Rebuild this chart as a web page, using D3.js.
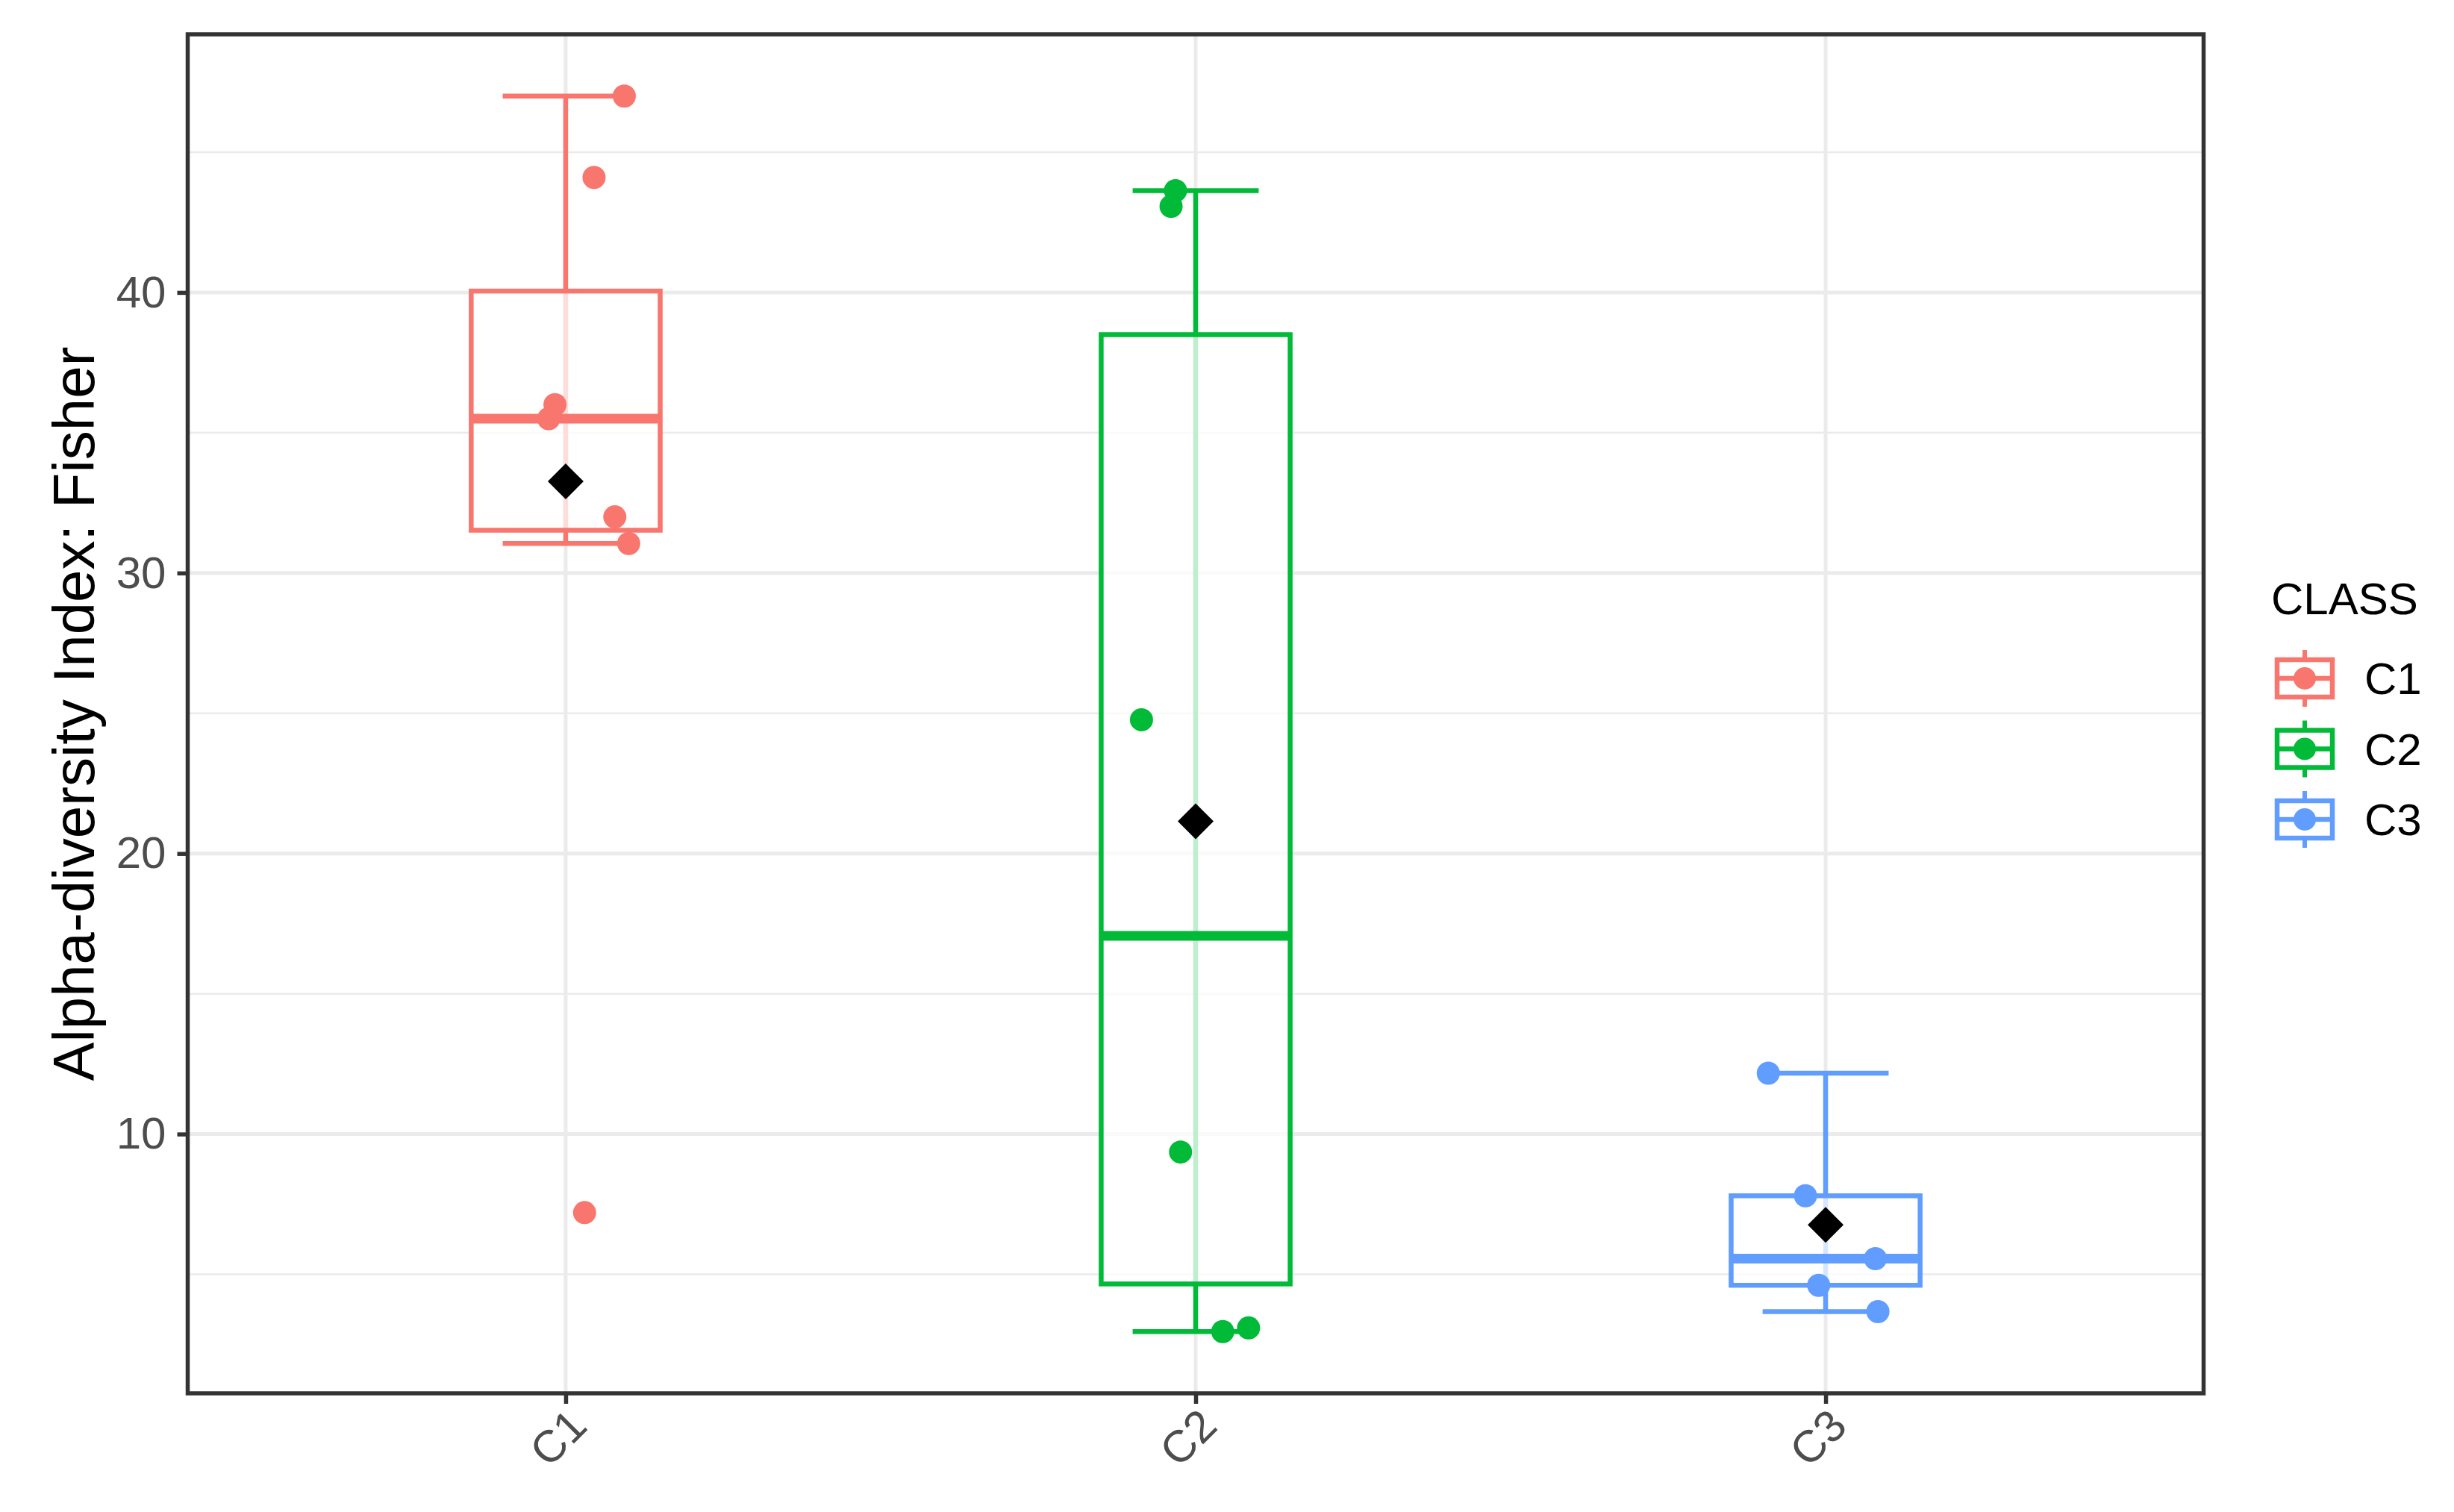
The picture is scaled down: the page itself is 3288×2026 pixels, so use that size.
<!DOCTYPE html>
<html>
<head>
<meta charset="utf-8">
<script src="https://cdn.jsdelivr.net/npm/d3@7"></script>
<style>
  html, body { margin: 0; padding: 0; background: #ffffff; }
  svg { display: block; font-family: "Liberation Sans", Arial, sans-serif; }
</style>
</head>
<body>
<svg id="chart" width="3288" height="2026"></svg>
<script>
// ---------------- data ----------------
const categories = ["C1", "C2", "C3"];
const colors = ["#F8766D", "#00BA38", "#619CFF"];
const valuesC1 = [47.0, 44.1, 36.0, 35.5, 32.0, 31.05, 7.2];
const valuesC2 = [43.63, 43.07, 24.77, 9.36, 2.96, 3.09];
const valuesC3 = [12.17, 7.80, 5.56, 4.61, 3.67];
// horizontal jitter of each point, in category-step units
const jitterC1 = [0.093, 0.045, -0.017, -0.027, 0.078, 0.100, 0.030];
const jitterC2 = [-0.032, -0.039, -0.086, -0.024, 0.043, 0.084];
const jitterC3 = [-0.091, -0.032, 0.079, -0.011, 0.083];
const yTicks = [10, 20, 30, 40];
const yMinorTicks = [5, 15, 25, 35, 45];
const yTitle = "Alpha-diversity Index: Fisher";
const legendTitle = "CLASS";

const groups = [
  { name: categories[0], values: valuesC1, jitter: jitterC1, color: colors[0] },
  { name: categories[1], values: valuesC2, jitter: jitterC2, color: colors[1] },
  { name: categories[2], values: valuesC3, jitter: jitterC3, color: colors[2] }
];

// --------------- layout ---------------
const panel = { left: 251.5, right: 2952.5, top: 46, bottom: 1867 };
const svg = d3.select("#chart");

// stats (type-7 quantiles like R)
groups.forEach(g => {
  const s = g.values.slice().sort(d3.ascending);
  const q1 = d3.quantile(s, 0.25), med = d3.quantile(s, 0.5), q3 = d3.quantile(s, 0.75);
  const iqr = q3 - q1;
  const lo = d3.min(s.filter(v => v >= q1 - 1.5 * iqr));
  const hi = d3.max(s.filter(v => v <= q3 + 1.5 * iqr));
  g.stats = { q1, med, q3, lo, hi, mean: d3.mean(s) };
});

const allVals = groups.flatMap(g => g.values);
const ext = d3.extent(allVals);
const pad = (ext[1] - ext[0]) * 0.05;

const y = d3.scaleLinear().domain([ext[0] - pad, ext[1] + pad]).range([panel.bottom, panel.top]);
const x = d3.scalePoint().domain(categories).range([panel.left, panel.right]).padding(0.6);
const step = x.step();

// --------------- grid ---------------
const grid = svg.append("g");
grid.selectAll("line.minor").data(yMinorTicks).join("line")
  .attr("x1", panel.left).attr("x2", panel.right)
  .attr("y1", d => y(d)).attr("y2", d => y(d))
  .attr("stroke", "#EBEBEB").attr("stroke-width", 2.5);
grid.selectAll("line.major").data(yTicks).join("line")
  .attr("x1", panel.left).attr("x2", panel.right)
  .attr("y1", d => y(d)).attr("y2", d => y(d))
  .attr("stroke", "#EBEBEB").attr("stroke-width", 5);
grid.selectAll("line.vx").data(categories).join("line")
  .attr("x1", d => x(d)).attr("x2", d => x(d))
  .attr("y1", panel.top).attr("y2", panel.bottom)
  .attr("stroke", "#EBEBEB").attr("stroke-width", 5);

// --------------- boxes ---------------
const lw = 6.5;
const boxHalf = 0.15 * step;
const capHalf = 0.1 * step;

groups.forEach(g => {
  const cx = x(g.name);
  const st = g.stats;
  const G = svg.append("g");
  // errorbar: vertical line + caps
  G.append("line").attr("x1", cx).attr("x2", cx).attr("y1", y(st.lo)).attr("y2", y(st.hi))
    .attr("stroke", g.color).attr("stroke-width", lw);
  [st.lo, st.hi].forEach(v => {
    G.append("line").attr("x1", cx - capHalf).attr("x2", cx + capHalf)
      .attr("y1", y(v)).attr("y2", y(v))
      .attr("stroke", g.color).attr("stroke-width", lw);
  });
  // box
  G.append("rect").attr("x", cx - boxHalf).attr("width", 2 * boxHalf)
    .attr("y", y(st.q3)).attr("height", y(st.q1) - y(st.q3))
    .attr("fill", "#ffffff").attr("fill-opacity", 0.75)
    .attr("stroke", g.color).attr("stroke-width", lw);
  // median
  G.append("line").attr("x1", cx - boxHalf).attr("x2", cx + boxHalf)
    .attr("y1", y(st.med)).attr("y2", y(st.med))
    .attr("stroke", g.color).attr("stroke-width", lw * 2);
  // points
  G.selectAll("circle").data(g.values.map((v, i) => ({ v, j: g.jitter[i] }))).join("circle")
    .attr("cx", d => cx + d.j * step).attr("cy", d => y(d.v)).attr("r", 15.5)
    .attr("fill", g.color);
  // mean diamond
  const my = y(st.mean), dd = 24;
  G.append("path")
    .attr("d", `M${cx},${my - dd}L${cx + dd},${my}L${cx},${my + dd}L${cx - dd},${my}Z`)
    .attr("fill", "#000000");
});

// --------------- axes ---------------
const axL = svg.append("g").attr("transform", `translate(${panel.left},0)`)
  .call(d3.axisLeft(y).tickValues(yTicks).tickSize(14).tickPadding(15).tickFormat(d3.format("d")));
axL.select(".domain").remove();
axL.selectAll(".tick line").attr("stroke", "#333333").attr("stroke-width", 5.5);
axL.selectAll(".tick text").attr("fill", "#4D4D4D").attr("font-size", 60)
  .attr("font-family", "Liberation Sans, Arial, sans-serif");

const axB = svg.append("g").attr("transform", `translate(0,${panel.bottom})`)
  .call(d3.axisBottom(x).tickSize(14).tickPadding(8));
axB.select(".domain").remove();
axB.selectAll(".tick line").attr("stroke", "#333333").attr("stroke-width", 5.5);
axB.selectAll(".tick text").attr("fill", "#4D4D4D").attr("font-size", 60)
  .attr("font-family", "Liberation Sans, Arial, sans-serif")
  .attr("text-anchor", "end")
  .attr("y", 0).attr("dy", 0)
  .attr("transform", "translate(31,47) rotate(-45)");

// panel border
svg.append("rect").attr("x", panel.left).attr("y", panel.top)
  .attr("width", panel.right - panel.left).attr("height", panel.bottom - panel.top)
  .attr("fill", "none").attr("stroke", "#333333").attr("stroke-width", 5.5);

// y title
svg.append("text")
  .attr("transform", `translate(126,${(panel.top + panel.bottom) / 2}) rotate(-90)`)
  .attr("text-anchor", "middle").attr("font-size", 78).attr("fill", "#000000")
  .text(yTitle);

// --------------- legend ---------------
const lg = svg.append("g");
lg.append("text").attr("x", 3043).attr("y", 823).attr("font-size", 60).attr("fill", "#000").text(legendTitle);
const keyCx = 3088, keyY0 = 909, keyStep = 94.5;
groups.forEach((g, i) => {
  const cy = keyY0 + i * keyStep;
  const k = lg.append("g");
  k.append("line").attr("x1", keyCx).attr("x2", keyCx).attr("y1", cy - 38).attr("y2", cy + 38)
    .attr("stroke", g.color).attr("stroke-width", 6);
  k.append("rect").attr("x", keyCx - 37).attr("y", cy - 25).attr("width", 74).attr("height", 50)
    .attr("fill", "#fff").attr("stroke", g.color).attr("stroke-width", 6.5);
  k.append("line").attr("x1", keyCx - 37).attr("x2", keyCx + 37).attr("y1", cy).attr("y2", cy)
    .attr("stroke", g.color).attr("stroke-width", 6.5);
  k.append("circle").attr("cx", keyCx).attr("cy", cy).attr("r", 15).attr("fill", g.color);
  lg.append("text").attr("x", 3168).attr("y", cy + 21).attr("font-size", 60).attr("fill", "#000").text(g.name);
});
</script>
</body>
</html>
